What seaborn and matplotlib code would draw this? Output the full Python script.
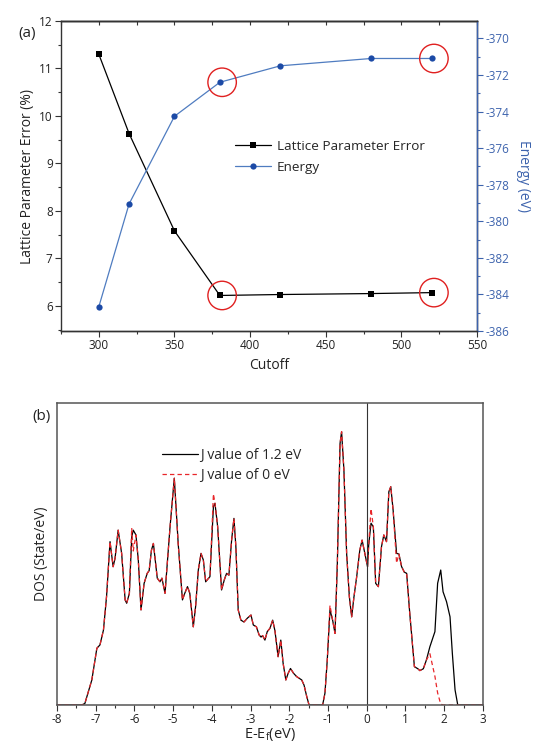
import matplotlib
matplotlib.use("Agg")
import matplotlib.pyplot as plt
from matplotlib.ticker import MultipleLocator
from matplotlib.lines import Line2D
import seaborn as sns
import pandas as pd

# ---------------- data ----------------
cutoff = [300, 320, 350, 380, 420, 480, 520]
lattice_error = [11.30, 9.63, 7.58, 6.22, 6.24, 6.26, 6.28]
energy = [-384.67, -379.05, -374.26, -372.40, -371.50, -371.10, -371.10]
highlight_cutoff = [380, 520]

dos_e = [-8.0, -7.5, -7.36, -7.28, -7.10, -6.97, -6.89, -6.80, -6.72, -6.63,
         -6.55, -6.50, -6.42, -6.33, -6.24, -6.20, -6.13, -6.07, -6.03, -5.96,
         -5.90, -5.83, -5.75, -5.67, -5.62, -5.56, -5.51, -5.41, -5.34, -5.29,
         -5.21, -5.08, -4.97, -4.87, -4.76, -4.70, -4.63, -4.57, -4.48, -4.42,
         -4.35, -4.28, -4.22, -4.16, -4.11, -4.05, -3.96, -3.92, -3.85, -3.75,
         -3.68, -3.62, -3.56, -3.49, -3.43, -3.38, -3.32, -3.25, -3.17, -3.08,
         -2.99, -2.93, -2.85, -2.78, -2.73, -2.69, -2.63, -2.57, -2.50, -2.43,
         -2.37, -2.29, -2.22, -2.16, -2.09, -2.03, -1.97, -1.89, -1.81, -1.68,
         -1.62, -1.55, -1.49, -1.14, -1.08, -1.02, -0.95, -0.88, -0.82, -0.76,
         -0.69, -0.65, -0.59, -0.52, -0.45, -0.39, -0.33, -0.26, -0.18, -0.12,
         -0.05, 0.02, 0.05, 0.11, 0.17, 0.23, 0.30, 0.38, 0.44, 0.51,
         0.57, 0.62, 0.68, 0.77, 0.83, 0.90, 0.97, 1.03, 1.11, 1.23,
         1.32, 1.37, 1.46, 1.54, 1.63, 1.76, 1.83, 1.91, 1.97, 2.06,
         2.15, 2.21, 2.28, 2.35, 3.0]

dos_j12 = [0, 0, 0, 0.5, 8.3, 18.8, 19.9, 24.8, 35.9, 54.1,
           45.8, 48.6, 57.9, 50.2, 34.8, 33.7, 37.0, 55.7, 57.9, 56.3,
           48.0, 31.5, 40.3, 43.6, 44.5, 51.3, 53.5, 42.0, 40.8, 42.0,
           37.0, 59.0, 75.1, 53.5, 34.8, 37.0, 39.2, 37.0, 25.9, 32.6,
           44.7, 50.2, 48.0, 40.8, 41.6, 42.5, 65.7, 66.8, 59.0, 38.1,
           41.4, 43.6, 43.0, 54.6, 61.8, 52.4, 31.5, 28.1, 27.5, 28.8,
           29.8, 26.5, 25.9, 23.2, 22.5, 23.0, 21.5, 24.3, 25.4, 28.1,
           24.5, 16.0, 21.5, 13.8, 8.3, 10.5, 12.1, 10.5, 9.4, 8.3,
           6.6, 2.8, 0, 0, 3.9, 14.9, 31.5, 28.0, 23.7, 46.9,
           86.6, 90.5, 77.8, 50.2, 35.9, 29.2, 35.9, 42.5, 51.3, 54.6,
           50.2, 45.8, 53.0, 60.2, 59.0, 40.3, 39.2, 52.4, 56.3, 54.1,
           70.6, 72.3, 64.6, 50.2, 50.0, 45.8, 44.0, 43.6, 30.4, 12.7,
           12.0, 11.4, 12.0, 14.9, 19.3, 24.3, 40.3, 44.7, 37.5, 34.2,
           29.2, 17.1, 5.0, 0, 0]

dos_j0 = [0, 0, 0, 0.5, 8.3, 18.8, 19.9, 24.8, 35.9, 54.1,
          45.8, 48.6, 57.9, 50.2, 34.8, 33.7, 37.0, 58.6, 51.0, 56.3,
          48.0, 31.5, 40.3, 43.6, 44.5, 51.3, 53.5, 42.0, 40.8, 42.0,
          37.0, 59.0, 75.1, 53.5, 34.8, 37.0, 39.2, 37.0, 25.9, 32.6,
          44.7, 50.2, 48.0, 40.8, 41.6, 42.5, 69.9, 66.8, 59.0, 38.1,
          41.4, 43.6, 43.0, 54.6, 61.8, 52.4, 31.5, 28.1, 27.5, 28.8,
          29.8, 26.5, 25.9, 23.2, 22.5, 23.0, 21.5, 24.3, 25.4, 28.1,
          24.5, 16.0, 21.5, 13.8, 8.3, 10.5, 12.1, 10.5, 9.4, 8.3,
          6.6, 2.8, 0, 0, 3.9, 14.9, 33.0, 28.0, 23.7, 46.9,
          86.6, 90.5, 77.8, 50.2, 35.9, 29.2, 35.9, 42.5, 51.3, 54.6,
          50.2, 45.8, 53.0, 65.0, 59.0, 40.3, 39.2, 52.4, 56.3, 54.1,
          70.6, 72.3, 64.6, 47.0, 50.0, 45.8, 44.0, 43.6, 30.4, 12.7,
          12.0, 11.4, 12.0, 14.9, 17.0, 9.5, 4.0, 0.3, 0, 0,
          0, 0, 0, 0, 0]

# ---------------- style ----------------
sns.set_theme(style="ticks")
plt.rcParams['font.family'] = ['Open Sans', 'DejaVu Sans']
plt.rcParams['axes.linewidth'] = 1.0
plt.rcParams['axes.unicode_minus'] = False
plt.rcParams['mathtext.fontset'] = 'custom'
plt.rcParams['mathtext.rm'] = 'Open Sans'
plt.rcParams['mathtext.it'] = 'Open Sans'

BLUE_LINE = '#4f7cc0'
BLUE_MARK = '#1c4aa6'
BLUE_AX = '#3d63ad'
SPINE = '#333333'
TXT = '#222222'
FS_T = 8.5   # tick labels
FS_L = 10    # axis labels / legend

fig = plt.figure(figsize=(5.36, 7.44), dpi=100)

# ---------------- panel (a) ----------------
ax = fig.add_axes([0.1138, 0.555, 0.7762, 0.4168])
ax2 = ax.twinx()

df_a = pd.DataFrame({'cutoff': cutoff, 'err': lattice_error, 'energy': energy})
sns.lineplot(data=df_a, x='cutoff', y='err', ax=ax, color='black', lw=0.9,
             marker='s', markersize=4.5, markeredgewidth=0, markerfacecolor='black')
sns.lineplot(data=df_a, x='cutoff', y='energy', ax=ax2, color=BLUE_LINE, lw=0.9,
             marker='o', markersize=4.5, markeredgewidth=0, markerfacecolor=BLUE_MARK)

hl = df_a[df_a['cutoff'].isin(highlight_cutoff)]
ax.scatter(hl['cutoff'] + 1.5, hl['err'], s=420, facecolors='none',
           edgecolors='#e02020', linewidths=1.0, zorder=5)
ax2.scatter(hl['cutoff'] + 1.5, hl['energy'], s=420, facecolors='none',
            edgecolors='#e02020', linewidths=1.0, zorder=5)

ax.set_xlim(275, 550)
ax.set_ylim(5.47, 12)
ax2.set_ylim(-386, -369.05)
ax.xaxis.set_major_locator(MultipleLocator(50))
ax.xaxis.set_minor_locator(MultipleLocator(25))
ax.yaxis.set_major_locator(MultipleLocator(1))
ax.yaxis.set_minor_locator(MultipleLocator(0.5))
ax2.yaxis.set_major_locator(MultipleLocator(2))
ax2.yaxis.set_minor_locator(MultipleLocator(1))

ax.tick_params(axis='both', which='major', direction='out', length=4, width=0.8,
               labelsize=FS_T, colors=SPINE, pad=2)
ax.tick_params(axis='both', which='minor', direction='out', length=2.5, width=0.8,
               colors=SPINE)
ax.tick_params(axis='x', labelcolor=TXT)
ax.tick_params(axis='y', labelcolor=TXT)
ax2.tick_params(axis='y', which='major', direction='out', length=4, width=0.8,
                labelsize=FS_T, colors=BLUE_AX, pad=2)
ax2.tick_params(axis='y', which='minor', direction='out', length=2.5, width=0.8,
                colors=BLUE_AX)

sec = ax.secondary_xaxis('top')
sec.xaxis.set_major_locator(MultipleLocator(50))
sec.xaxis.set_minor_locator(MultipleLocator(25))
sec.tick_params(which='both', direction='in', length=3, width=0.8,
                labeltop=False, colors=SPINE)
sec.spines['top'].set_color(SPINE)

for s in ['left', 'bottom', 'top']:
    ax.spines[s].set_color(SPINE)
ax2.spines['right'].set_color(BLUE_AX)
ax2.spines['left'].set_visible(False)
ax2.spines['top'].set_color(SPINE)
ax2.spines['bottom'].set_color(SPINE)

ax.set_xlabel('Cutoff', fontsize=FS_L, color=TXT, labelpad=4)
ax.set_ylabel('Lattice Parameter Error (%)', fontsize=FS_L, color=TXT, labelpad=3)
ax2.set_ylabel('Energy (eV)', fontsize=FS_L, color=BLUE_AX, rotation=270, labelpad=16)

h1 = Line2D([], [], color='black', lw=0.9, marker='s', markersize=4.5,
            markeredgewidth=0)
h2 = Line2D([], [], color=BLUE_LINE, lw=0.9, marker='o', markersize=4.5,
            markeredgewidth=0, markerfacecolor=BLUE_MARK)
ax.legend([h1, h2], ['Lattice Parameter Error', 'Energy'], frameon=False,
          fontsize=9.7, loc='upper left', bbox_to_anchor=(0.405, 0.635),
          handlelength=2.7, handletextpad=0.4, labelspacing=0.6, borderaxespad=0)

fig.text(0.034, 0.955, '(a)', fontsize=11, color=TXT, va='center')

# ---------------- panel (b) ----------------
bx = fig.add_axes([0.1063, 0.0524, 0.7947, 0.4059])
df_b = pd.DataFrame({'E': dos_e, 'j12': dos_j12, 'j0': dos_j0})
sns.lineplot(data=df_b, x='E', y='j12', ax=bx, color='black', lw=0.9,
             label='J value of 1.2 eV')
sns.lineplot(data=df_b, x='E', y='j0', ax=bx, color='#e8262a', lw=0.9,
             linestyle=(0, (3.5, 2.5)), label='J value of 0 eV')
bx.axvline(0, color=SPINE, lw=0.8)

bx.set_xlim(-8, 3)
bx.set_ylim(0, 100)
bx.xaxis.set_major_locator(MultipleLocator(1))
bx.xaxis.set_minor_locator(MultipleLocator(0.5))
bx.set_yticks([])
bx.tick_params(axis='x', which='major', direction='out', length=4, width=0.8,
               labelsize=FS_T, colors=SPINE, labelcolor=TXT, pad=2)
bx.tick_params(axis='x', which='minor', direction='out', length=2.5, width=0.8,
               colors=SPINE)
for s in bx.spines.values():
    s.set_color('#555555')
    s.set_linewidth(1.1)

bx.set_xlabel(r'E-E$_\mathrm{f}$(eV)', fontsize=FS_L + 0.5, color=TXT, labelpad=0)
bx.set_ylabel('DOS (State/eV)', fontsize=FS_L, color=TXT, labelpad=6)
bx.legend(frameon=False, fontsize=FS_L, loc='upper left',
          bbox_to_anchor=(0.233, 0.87), handlelength=2.6, handletextpad=0.15,
          labelspacing=0.35, borderaxespad=0)

fig.text(0.06, 0.44, '(b)', fontsize=11, color=TXT, va='center')

fig.savefig('out.png', dpi=100)
